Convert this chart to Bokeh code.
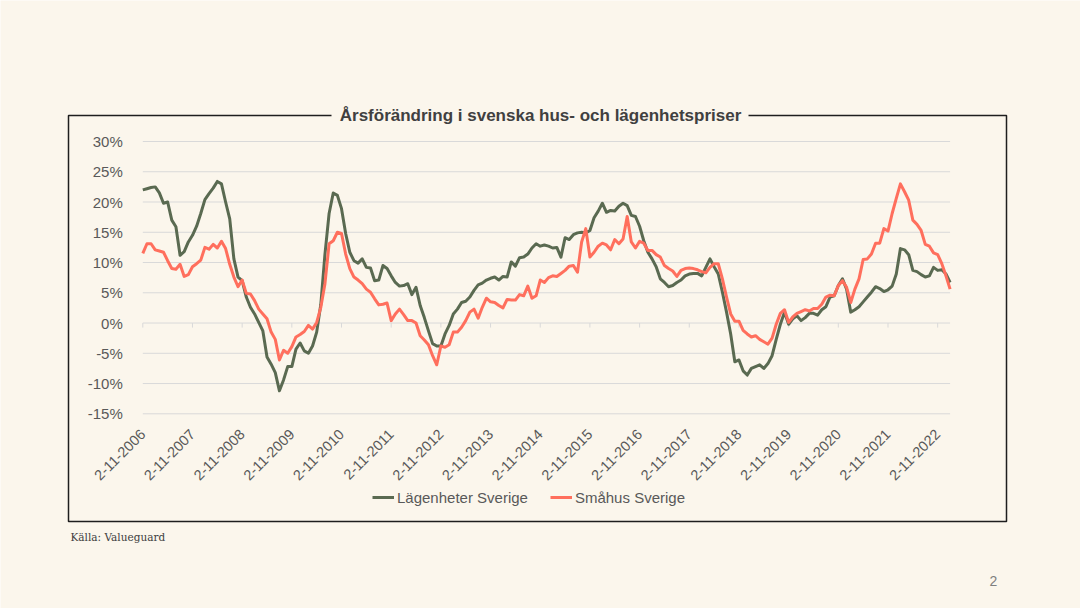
import math
from bokeh.plotting import figure
from bokeh.models import (Range1d, FixedTicker, Legend, LegendItem, Label,
                          BoxAnnotation, ColumnDataSource)
from bokeh.embed import file_html
from bokeh.resources import INLINE

# ---------------- data (annual change, %) ----------------
lagenheter = [
    22.0, 22.2, 22.4, 22.5, 21.5, 19.8, 20.0, 17.0, 15.9, 11.2, 11.8, 13.4,
    14.5, 16.0, 18.1, 20.4, 21.4, 22.3, 23.4, 23.0, 20.0, 17.2, 10.6, 7.6,
    7.0, 4.3, 2.6, 1.5, 0.1, -1.3, -5.6, -6.8, -8.2, -11.2, -9.4, -7.2,
    -7.2, -4.3, -3.3, -4.6, -5.0, -3.8, -1.5, 3.1, 11.4, 18.1, 21.5, 21.1,
    18.9, 14.8, 11.7, 10.3, 9.9, 10.6, 9.2, 9.1, 7.0, 7.1, 9.5, 9.0,
    7.8, 6.7, 6.1, 6.2, 6.5, 4.7, 5.9, 2.9, 0.9, -1.3, -3.4, -3.8,
    -3.8, -1.8, -0.4, 1.5, 2.3, 3.4, 3.6, 4.3, 5.4, 6.3, 6.6, 7.1,
    7.4, 7.6, 7.1, 7.7, 7.6, 10.1, 9.4, 10.8, 10.9, 11.4, 12.4, 13.1,
    12.7, 12.9, 12.7, 12.4, 12.5, 10.9, 14.1, 13.8, 14.6, 14.9, 15.0, 14.9,
    15.3, 17.4, 18.5, 19.8, 18.3, 18.6, 18.5, 19.3, 19.8, 19.4, 17.8, 17.6,
    16.0, 13.6, 11.7, 10.6, 9.3, 7.3, 6.7, 6.0, 6.2, 6.7, 7.1, 7.8,
    8.1, 8.2, 8.2, 7.8, 9.2, 10.6, 9.3, 8.1, 5.1, 1.8, -1.8, -6.4,
    -6.1, -7.9, -8.6, -7.5, -7.2, -6.9, -7.5, -6.7, -5.4, -2.7, -0.2, 1.8,
    -0.2, 0.7, 1.2, 0.4, 0.9, 1.6, 1.6, 1.3, 2.2, 2.7, 4.3, 4.5,
    6.2, 7.3, 5.6, 1.8, 2.2, 2.7, 3.5, 4.3, 5.1, 6.0, 5.7, 5.2,
    5.5, 6.1, 8.1, 12.3, 12.1, 11.3, 8.7, 8.5, 8.0, 7.6, 7.8, 9.2,
    8.7, 8.8, 8.1, 6.7,
]
smahus = [
    11.5, 13.1, 13.1, 12.1, 11.9, 11.7, 10.3, 9.0, 8.9, 9.7, 7.7, 8.0,
    9.3, 9.8, 10.4, 12.5, 12.2, 13.0, 12.4, 13.5, 12.3, 9.7, 7.6, 6.0,
    7.1, 4.9, 4.8, 3.7, 2.3, 1.5, 0.7, -1.5, -2.7, -6.1, -4.5, -5.0,
    -3.9, -2.3, -1.9, -1.4, -0.4, -1.0, 0.1, 2.6, 6.5, 13.1, 13.6, 15.0,
    14.8, 11.4, 9.0, 7.6, 7.1, 6.5, 5.6, 5.1, 4.0, 3.0, 3.1, 3.3,
    0.4, 1.5, 2.3, 1.4, 0.4, 0.4, 0.0, -2.1, -2.8, -3.6, -5.4, -6.9,
    -3.8, -4.0, -3.6, -1.5, -1.5, -0.7, 0.4, 1.8, 2.3, 0.8, 2.6, 4.1,
    3.5, 3.4, 2.9, 2.5, 3.9, 3.8, 3.8, 4.7, 4.5, 6.1, 4.1, 4.5,
    7.1, 6.7, 7.5, 7.8, 7.7, 8.2, 8.7, 9.4, 9.5, 8.4, 13.4, 15.6,
    10.9, 11.7, 12.7, 13.2, 12.9, 12.1, 13.8, 13.1, 13.9, 17.6, 13.4, 12.4,
    13.5, 13.2, 12.0, 12.0, 11.3, 10.9, 9.5, 9.0, 8.6, 7.7, 8.7, 9.0,
    9.1, 9.0, 8.8, 8.5, 8.3, 9.2, 9.8, 9.8, 7.3, 4.3, 1.5, 0.3,
    0.3, -1.2, -1.8, -2.3, -2.1, -2.7, -3.1, -3.5, -2.5, -0.2, 1.6, 2.2,
    0.1, 1.0, 1.6, 1.9, 2.2, 2.0, 2.4, 2.4, 3.1, 4.3, 4.6, 4.5,
    6.2, 7.0, 5.9, 3.4, 5.6, 7.3, 10.5, 10.6, 11.4, 13.2, 13.2, 15.6,
    15.2, 18.1, 20.6, 23.0, 21.7, 20.3, 17.0, 16.3, 15.3, 13.0, 12.7, 11.6,
    11.3, 9.8, 7.8, 5.6,
]
x_tick_labels = ["2-11-2006", "2-11-2007", "2-11-2008", "2-11-2009", "2-11-2010",
                 "2-11-2011", "2-11-2012", "2-11-2013", "2-11-2014", "2-11-2015",
                 "2-11-2016", "2-11-2017", "2-11-2018", "2-11-2019", "2-11-2020",
                 "2-11-2021", "2-11-2022"]
y_ticks = [-15, -10, -5, 0, 5, 10, 15, 20, 25, 30]
y_tick_labels = ["-15%", "-10%", "-5%", "0%", "5%", "10%", "15%", "20%", "25%", "30%"]
series_names = ["Lägenheter Sverige", "Småhus Sverige"]
title_text = "Årsförändring i svenska hus- och lägenhetspriser"
source_text = "Källa: Valueguard"
page_number = "2"

months = list(range(len(lagenheter)))
x_ticks = [12 * i for i in range(len(x_tick_labels))]

# ---------------- styling ----------------
BG = "#FBF6EC"
GREEN = "#5A6A51"
RED = "#FF6F5D"
GRID = "#D9D9D9"
TXT = "#595959"
FONT = "Liberation Sans"

W, H = 1080, 608
# plot area: month 0 at x=142.3, last month at x=949.6 ; 30% at y=141, -15% at y=413.3
PX_M = (949.6 - 142.3) / (len(months) - 1)
PX_P = (413.3 - 141.0) / 45.0
x0 = 0 - 142.3 / PX_M
x1 = (len(months) - 1) + (W - 949.6) / PX_M
y_top = 30 + 141.0 / PX_P
y_bot = -15 - (H - 413.3) / PX_P

p = figure(width=W, height=H, output_backend="svg", toolbar_location=None,
           x_range=Range1d(x0, x1), y_range=Range1d(y_bot, y_top),
           min_border_left=0, min_border_right=0,
           min_border_top=0, min_border_bottom=0)
p.background_fill_color = BG
p.border_fill_color = BG
p.outline_line_color = None
p.xgrid.grid_line_color = None
p.ygrid.grid_line_color = None

# y axis, fixed at the start of the series
p.yaxis.fixed_location = 0
p.yaxis.ticker = FixedTicker(ticks=y_ticks)
p.yaxis.major_label_overrides = dict(zip(y_ticks, y_tick_labels))
p.yaxis.axis_line_color = None
p.yaxis.major_tick_line_color = None
p.yaxis.minor_tick_line_color = None
p.yaxis.major_label_standoff = 14
p.yaxis.major_label_text_font = FONT
p.yaxis.major_label_text_font_size = "15px"
p.yaxis.major_label_text_color = TXT

# x axis, fixed at the bottom gridline
p.xaxis.fixed_location = -15
p.xaxis.ticker = FixedTicker(ticks=x_ticks)
p.xaxis.major_label_overrides = dict(zip(x_ticks, x_tick_labels))
p.xaxis.major_label_orientation = math.pi / 4
p.xaxis.axis_line_color = None
p.xaxis.major_tick_line_color = None
p.xaxis.minor_tick_line_color = None
p.xaxis.major_label_standoff = 12
p.xaxis.major_label_text_font = FONT
p.xaxis.major_label_text_font_size = "14.5px"
p.xaxis.major_label_text_color = TXT

# horizontal gridlines across the series span
n_y = len(y_ticks)
p.segment(x0=[0] * n_y, y0=y_ticks, x1=[len(months) - 1] * n_y, y1=y_ticks,
          line_color=GRID, line_width=1)
# small tick marks on the zero line
p.segment(x0=x_ticks, y0=[0] * len(x_ticks), x1=x_ticks, y1=[-0.75] * len(x_ticks),
          line_color=GRID, line_width=1)

src = ColumnDataSource(dict(m=months, lag=lagenheter, sma=smahus))
r1 = p.line("m", "lag", source=src, line_color=GREEN, line_width=3, line_join="round")
r2 = p.line("m", "sma", source=src, line_color=RED, line_width=3, line_join="round")

legend = Legend(items=[LegendItem(label=series_names[0], renderers=[r1]),
                       LegendItem(label=series_names[1], renderers=[r2])],
                orientation="horizontal", location=(372, H - 507),
                background_fill_alpha=0, border_line_color=None,
                padding=0, margin=0, spacing=22, glyph_width=22, glyph_height=20,
                label_standoff=3, label_height=20,
                label_text_font=FONT, label_text_font_size="15px",
                label_text_color=TXT)
p.add_layout(legend)

# outer box with the title sitting on its top edge
box = BoxAnnotation(left=68, right=1006, top=115, bottom=521,
                    left_units="canvas", right_units="canvas",
                    top_units="canvas", bottom_units="canvas",
                    fill_alpha=0, line_color="#1E1E1E", line_alpha=1.0, line_width=1.5)
p.add_layout(box)
gap = BoxAnnotation(left=331, right=748, top=107, bottom=123,
                    left_units="canvas", right_units="canvas",
                    top_units="canvas", bottom_units="canvas",
                    fill_color=BG, fill_alpha=1, line_alpha=0)
p.add_layout(gap)

title = Label(x=540, y=115, x_units="canvas", y_units="canvas", text=title_text,
              text_align="center", text_baseline="middle",
              text_font=FONT, text_font_style="bold", text_font_size="17px",
              text_color="#404040")
p.add_layout(title)

source = Label(x=70, y=536, x_units="canvas", y_units="canvas", text=source_text,
               text_align="left", text_baseline="middle",
               text_font="DejaVu Serif", text_font_size="10.5px", text_color="#404040")
p.add_layout(source)

pnum = Label(x=993, y=580, x_units="canvas", y_units="canvas", text=page_number,
             text_align="center", text_baseline="middle",
             text_font=FONT, text_font_size="14px", text_color="#7F7F7F")
p.add_layout(pnum)

open("out.html", "w").write(file_html(p, INLINE))
